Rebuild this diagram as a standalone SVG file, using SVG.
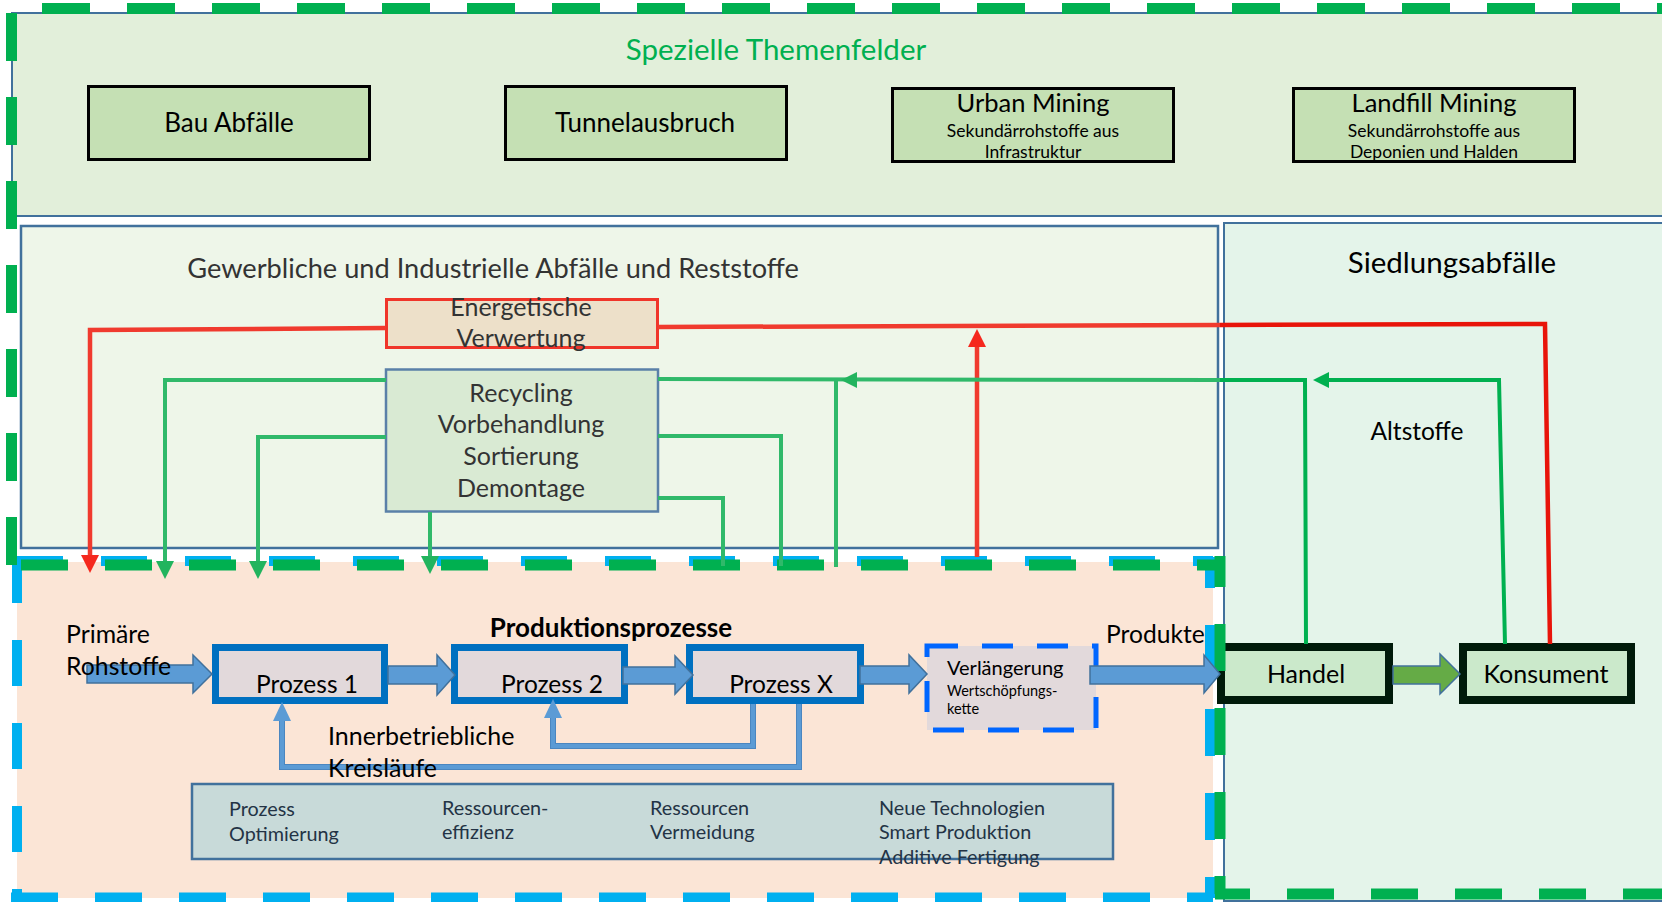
<svg xmlns="http://www.w3.org/2000/svg" width="1662" height="902" viewBox="0 0 1662 902">
<defs>
<style>
text{font-family:Lato,"Liberation Sans",sans-serif;fill:#000}
.tb{fill:#c5e0b4;stroke:#000;stroke-width:3}
.proc{fill:#e2d9db;stroke:#0070c0;stroke-width:7}
.hk{fill:#cbe9cb;stroke:#001a0a;stroke-width:8}
.blk{fill:#5b9bd5;stroke:#41719c;stroke-width:1.5}
.red{fill:none;stroke:#f03a2e;stroke-width:4.5}
.red2{fill:none;stroke:#e8140a;stroke-width:4.5}
.grn{fill:none;stroke:#30b96a;stroke-width:4}
.grn2{fill:none;stroke:#00b050;stroke-width:4}
.loopo{fill:none;stroke:#4a86c0;stroke-width:6}
.loopi{fill:none;stroke:#5b9bd5;stroke-width:4}
.gd{fill:none;stroke:#00b050;stroke-width:11}
.bd{fill:none;stroke:#00b0f0;stroke-width:10}
.dk{fill:#333}
.bt{fill:#233345;font-size:19.8px}
</style>
<marker id="ahR" markerUnits="userSpaceOnUse" markerWidth="18" markerHeight="18" viewBox="0 0 18 18" refX="0" refY="9" orient="auto"><path d="M0,0 L18,9 L0,18 z" fill="#f5281e"/></marker>
<marker id="ahG" markerUnits="userSpaceOnUse" markerWidth="18" markerHeight="18" viewBox="0 0 18 18" refX="0" refY="9" orient="auto"><path d="M0,0 L18,9 L0,18 z" fill="#22b45e"/></marker>
</defs>
<rect width="1662" height="902" fill="#fff"/>

<g id="region-spezielle">
<rect x="12" y="13" width="1700" height="203" fill="#e2efda" stroke="#41719c" stroke-width="2"/>
<text x="776" y="60" text-anchor="middle" font-size="29.5" style="fill:#00b050">Spezielle Themenfelder</text>
</g>
<g id="node-bau"><rect class="tb" x="88.5" y="86.5" width="281" height="73"/><text x="229" y="132" text-anchor="middle" font-size="26">Bau Abfälle</text></g>
<g id="node-tunnel"><rect class="tb" x="505.5" y="86.5" width="281" height="73"/><text x="645" y="132" text-anchor="middle" font-size="26">Tunnelausbruch</text></g>
<g id="node-urban"><rect class="tb" x="892.5" y="88.5" width="281" height="73"/><text x="1033" y="112" text-anchor="middle" font-size="25.5">Urban Mining</text><text x="1033" y="137" text-anchor="middle" font-size="17.5">Sekundärrohstoffe aus</text><text x="1033" y="158" text-anchor="middle" font-size="17.5">Infrastruktur</text></g>
<g id="node-landfill"><rect class="tb" x="1293.5" y="88.5" width="281" height="73"/><text x="1434" y="112" text-anchor="middle" font-size="25.5">Landfill Mining</text><text x="1434" y="137" text-anchor="middle" font-size="17.5">Sekundärrohstoffe aus</text><text x="1434" y="158" text-anchor="middle" font-size="17.5">Deponien und Halden</text></g>

<g id="region-gewerbe">
<rect x="21" y="226" width="1197" height="322" fill="#eef6e9" stroke="#41719c" stroke-width="2.5"/>
<text class="dk" x="493" y="278" text-anchor="middle" font-size="27.2">Gewerbliche und Industrielle Abfälle und Reststoffe</text>
</g>
<g id="region-siedlung">
<rect x="1224" y="223" width="460" height="678" fill="#e4f4ea" stroke="#41719c" stroke-width="2"/>
<text x="1452" y="273" text-anchor="middle" font-size="29.5">Siedlungsabfälle</text>
</g>
<g id="region-produktion">
<rect x="17" y="562" width="1196" height="336" fill="#fbe5d6"/>
</g>

<g id="node-energetisch"><rect x="386.5" y="299.5" width="271" height="48" fill="#ede0c9" stroke="#f0352a" stroke-width="3"/><text class="dk" x="521" y="316" text-anchor="middle" font-size="25">Energetische</text><text class="dk" x="521" y="347" text-anchor="middle" font-size="25">Verwertung</text></g>
<g id="node-recycling"><rect x="386" y="369.5" width="272" height="142" fill="#d9ead3" stroke="#5a80a8" stroke-width="2.5"/><text class="dk" x="521" y="402" text-anchor="middle" font-size="25">Recycling</text><text class="dk" x="521" y="433" text-anchor="middle" font-size="25">Vorbehandlung</text><text class="dk" x="521" y="465" text-anchor="middle" font-size="25">Sortierung</text><text class="dk" x="521" y="497" text-anchor="middle" font-size="25">Demontage</text></g>

<g id="node-massnahmen"><rect x="192" y="784" width="921" height="75" fill="#c8dad9" stroke="#41719c" stroke-width="2.5"/>
<text class="bt" x="229" y="816">Prozess</text><text class="bt" x="229" y="841">Optimierung</text>
<text class="bt" x="442" y="815">Ressourcen-</text><text class="bt" x="442" y="839">effizienz</text>
<text class="bt" x="650" y="815">Ressourcen</text><text class="bt" x="650" y="839">Vermeidung</text>
<text class="bt" x="879" y="815">Neue Technologien</text><text class="bt" x="879" y="839">Smart Produktion</text><text class="bt" x="879" y="864">Additive Fertigung</text>
</g>

<g id="node-prozess1"><rect class="proc" x="215.5" y="647.5" width="169" height="53"/><text x="307" y="693" text-anchor="middle" font-size="24.5">Prozess 1</text></g>
<g id="node-prozess2"><rect class="proc" x="454.5" y="647.5" width="170" height="53"/><text x="552" y="693" text-anchor="middle" font-size="24.5">Prozess 2</text></g>
<g id="node-prozessx"><rect class="proc" x="689.5" y="647.5" width="171" height="53"/><text x="781" y="693" text-anchor="middle" font-size="24.5">Prozess X</text></g>
<g id="node-verlaengerung"><rect x="927" y="646" width="169" height="84" fill="#e2d9db" stroke="#0066ff" stroke-width="5" stroke-dasharray="31 24"/><text x="947" y="675" font-size="20">Verlängerung</text><text x="947" y="696" font-size="14.5">Wertschöpfungs-</text><text x="947" y="714" font-size="14.5">kette</text></g>
<g id="node-handel"><rect class="hk" x="1221" y="647" width="168" height="53"/><text x="1306" y="683" text-anchor="middle" font-size="25">Handel</text></g>
<g id="node-konsument"><rect class="hk" x="1463" y="647" width="168" height="53"/><text x="1546" y="683" text-anchor="middle" font-size="25">Konsument</text></g>

<g id="frames">
<path class="bd" d="M17,561 H1213" stroke-dasharray="46 38"/>
<path class="bd" d="M17,557 V898" stroke-dasharray="46 37"/>
<path class="bd" d="M11,897.5 H1213" stroke-dasharray="47 37"/>
<path class="bd" d="M1210,557 V898" stroke-dasharray="47 37" stroke-dashoffset="16"/>
<path class="gd" d="M42,8.5 H1662" stroke-dasharray="48 37"/>
<path class="gd" d="M11.5,13 V565" stroke-dasharray="48 36"/>
<path class="gd" d="M21,565 H1225" stroke-dasharray="47 37"/>
<path class="gd" d="M1220,556 V894" stroke-dasharray="47 37" stroke-dashoffset="16"/>
<path class="gd" d="M1215,894 H1662" stroke-dasharray="47 37" stroke-dashoffset="12"/>
</g>

<g id="connectors">
<polygon class="blk" points="87,665 193,665 193,655 212,674 193,693 193,683 87,683"/>
<polygon class="blk" points="388,666 437,666 437,655 455,675 437,695 437,684 388,684"/>
<polygon class="blk" points="623,667 675,667 675,656 693,675 675,694 675,684 623,684"/>
<polygon class="blk" points="860,666 909,666 909,655 927,674 909,693 909,684 860,684"/>
<polygon class="blk" points="1090,666 1204,666 1204,655 1220,674 1204,693 1204,684 1090,684"/>
<polygon points="1393,666 1440,666 1440,654 1460,674 1440,694 1440,684 1393,684" fill="#65ab46" stroke="#41719c" stroke-width="1.5"/>
<path class="loopo" d="M753,704 L753,746 L553,746 L553,717"/>
<path class="loopi" d="M753,704 L753,746 L553,746 L553,717"/>
<polygon points="553,699 544,718 562,718" fill="#5b9bd5"/>
<path class="loopo" d="M799,704 L799,767 L282,767 L282,720"/>
<path class="loopi" d="M799,704 L799,767 L282,767 L282,720"/>
<polygon points="282,702 273,721 291,721" fill="#5b9bd5"/>
<path class="red" d="M386,328 L90,330 L90,555" marker-end="url(#ahR)"/>
<path class="red" d="M658,327 L1220,325"/>
<path class="red2" d="M1220,325 L1545,324 L1550,644"/>
<path class="red" d="M977,557 L977,347" marker-end="url(#ahR)"/>
<path class="grn" d="M386,380 L165,380 L165,561" marker-end="url(#ahG)"/>
<path class="grn" d="M386,437 L258,437 L258,561" marker-end="url(#ahG)"/>
<path class="grn" d="M430,512 L430,556" marker-end="url(#ahG)"/>
<path class="grn" d="M658,498 L723,498 L723,566"/>
<path class="grn" d="M658,436 L781,436 L781,566"/>
<path class="grn" d="M658,379 L1220,380"/>
<path class="grn2" d="M1220,380 L1305,380 L1306,644"/>
<polygon points="841,380 857,372 857,388" fill="#22b45e"/>
<path class="grn" d="M836,380 L836,567"/>
<path class="grn2" d="M1329,380 L1499,380 L1505,644"/>
<polygon points="1313,380 1329,372 1329,388" fill="#00b050"/>
</g>

<g id="labels">
<text x="66" y="643" font-size="24.8">Primäre</text>
<text x="66" y="675" font-size="24.8">Rohstoffe</text>
<text x="611" y="637" text-anchor="middle" font-size="26" font-weight="bold">Produktionsprozesse</text>
<text x="328" y="745" font-size="25">Innerbetriebliche</text>
<text x="328" y="777" font-size="25">Kreisläufe</text>
<text x="1106" y="643" font-size="24.6">Produkte</text>
<text x="1417" y="440" text-anchor="middle" font-size="24.5">Altstoffe</text>
</g>
</svg>
